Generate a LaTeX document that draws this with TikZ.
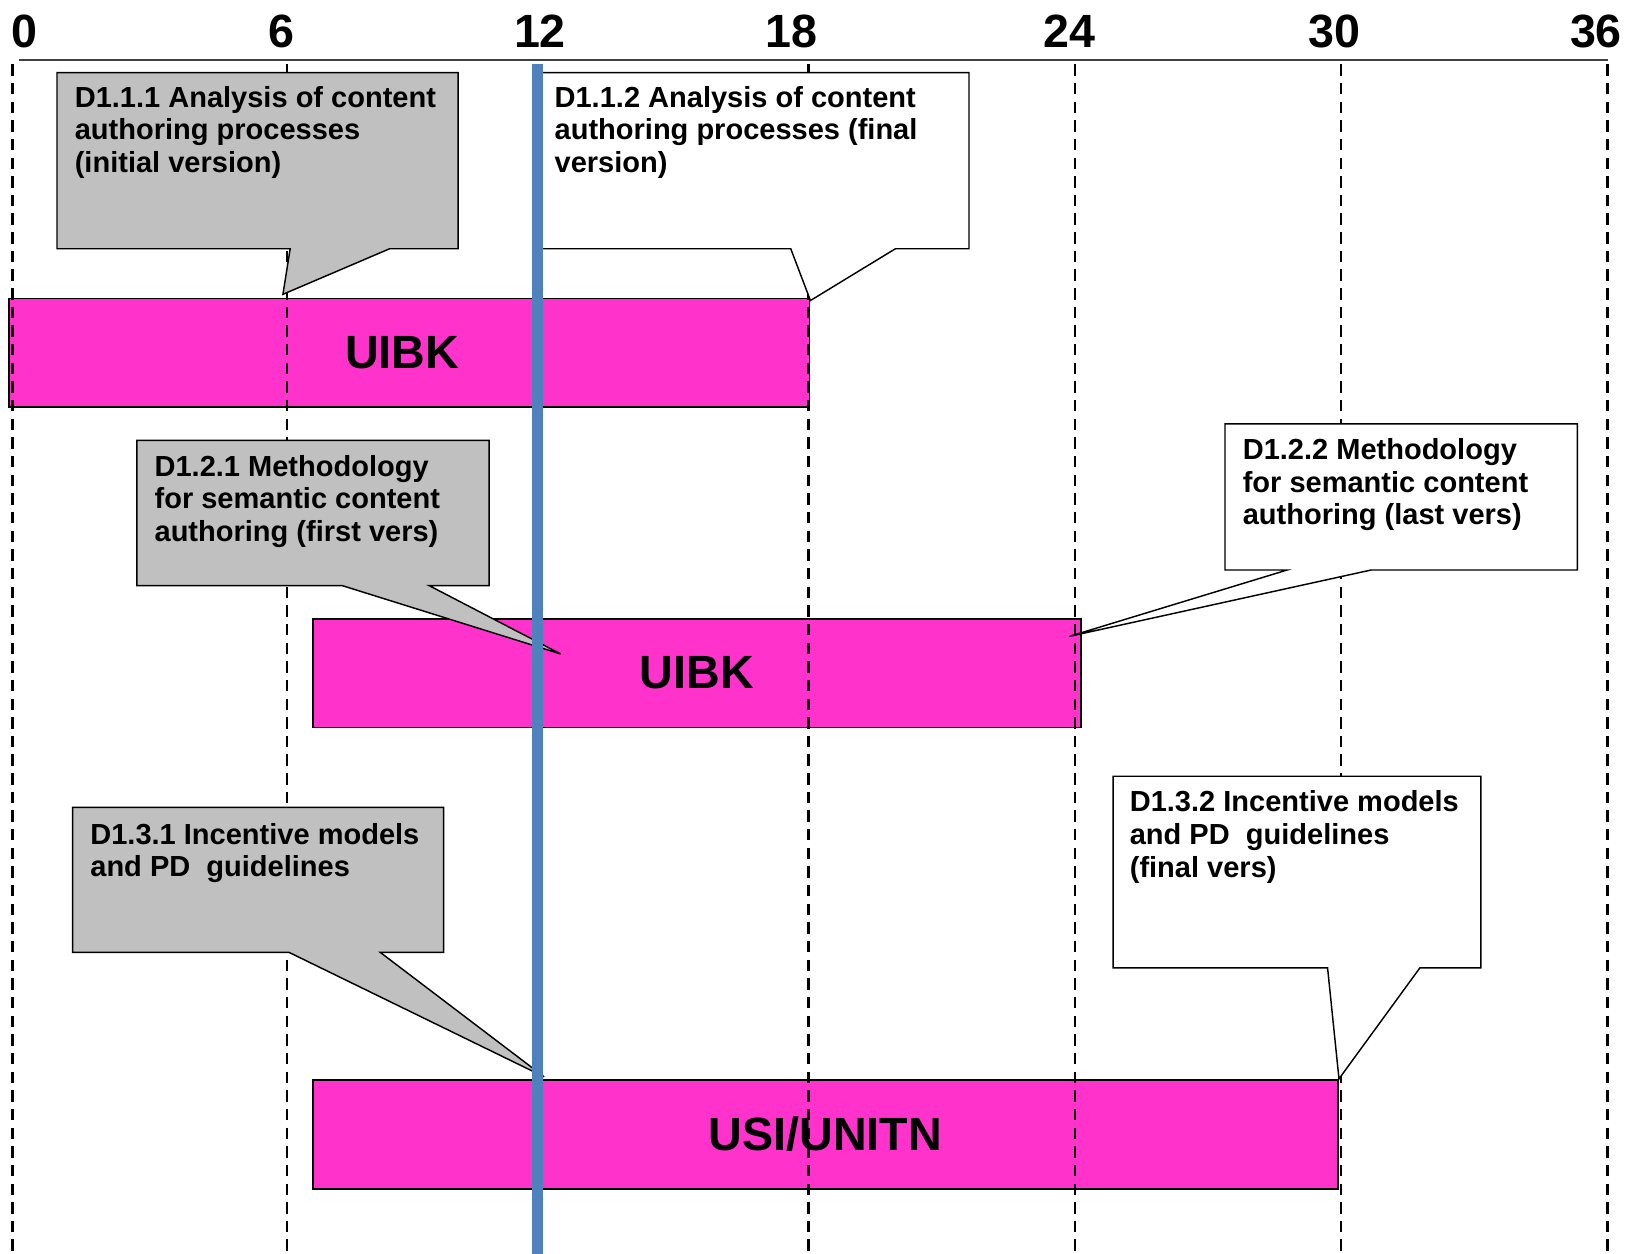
\documentclass[tikz,border=0pt]{standalone}
\usepackage{fontspec}
\setmainfont{Liberation Sans}
\usetikzlibrary{calc}

\definecolor{barpink}{HTML}{FF33CC}
\definecolor{nowblue}{HTML}{4F81BD}
\definecolor{boxgray}{HTML}{C0C0C0}

\tikzset{
  bar/.style={draw=black,line width=1.6pt,fill=barpink,inner sep=0pt,
    minimum height=105pt,font=\fontsize{45}{50}\selectfont\bfseries},
  month/.style={inner sep=0pt,font=\fontsize{45}{50}\selectfont\bfseries},
  monthline/.style={black,line width=2.3pt,dash pattern=on 11pt off 7pt},
  callgray/.style={draw=black,line width=1.4pt,fill=boxgray},
  callwhite/.style={draw=black,line width=1.4pt,fill=white},
  calltext/.style={anchor=north west,align=left,inner sep=0pt,
    font=\fontsize{28}{31.5}\selectfont\bfseries}
}

\begin{document}
\begin{tikzpicture}[x=1pt,y=-1pt]

\useasboundingbox (0,0) rectangle (1568,1210);

% time axis
\draw[black!75,line width=2pt] (18,58) -- (1552,58);
\foreach \m/\x in {0/24,6/272,12/521,18/764,24/1032,30/1288,36/1540}
  \node[month] (m\m) at (\x,30) {\m};

% work bars
\node[bar,minimum width=772pt] (bar1) at (395,340.5) {\hspace*{-14pt}UIBK};
\node[bar,minimum width=741pt] (bar2) at (672.5,649.5) {UIBK};
\node[bar,minimum width=989pt] (bar3) at (796.5,1094.5) {USI/UNITN};

\foreach \x in {12,277,518,780,1037,1294,1551}
  \draw[monthline] (\x,62) -- (\x,1210);

% deliverables
\coordinate (t111) at (273,284);
\coordinate (t112) at (782,290);
\coordinate (t121) at (541,631);
\coordinate (t122) at (1032,614);
\coordinate (t131) at (525,1039);
\coordinate (t132) at (1292,1041);

\draw[callgray] (55,70) -- (442,70) -- (442,240) -- (376,240) -- (t111)
  -- (280,240) -- (55,240) -- cycle;
\node[calltext] (d111) at (72,83) {D1.1.1 Analysis of content\\authoring processes\\(initial version)};

\draw[callwhite] (516,70) -- (935,70) -- (935,240) -- (864,240) -- (t112)
  -- (763,240) -- (516,240) -- cycle;
\node[calltext] (d112) at (535,83) {D1.1.2 Analysis of content\\authoring processes (final\\version)};

\draw[callgray] (132,425) -- (472,425) -- (472,565) -- (414,565) -- (t121)
  -- (330,565) -- (132,565) -- cycle;
\node[calltext] (d121) at (149,439) {D1.2.1 Methodology\\for semantic content\\authoring (first vers)};

\draw[callwhite] (1182,409) -- (1522,409) -- (1522,550) -- (1323,550) -- (t122)
  -- (1242,550) -- (1182,550) -- cycle;
\node[calltext] (d122) at (1199,423) {D1.2.2 Methodology\\for semantic content\\authoring (last vers)};

\draw[callgray] (70,779) -- (428,779) -- (428,919) -- (367,919) -- (t131)
  -- (279,919) -- (70,919) -- cycle;
\node[calltext] (d131) at (87,794) {D1.3.1 Incentive models\\and PD~~guidelines};

\draw[callwhite] (1074,749) -- (1429,749) -- (1429,934) -- (1370,934) -- (t132)
  -- (1281,934) -- (1074,934) -- cycle;
\node[calltext] (d132) at (1090,763) {D1.3.2 Incentive models\\and PD~~guidelines\\(final vers)};

% month 12
\draw[nowblue,line width=11pt] (518.5,62) -- (518.5,1210);

\end{tikzpicture}
\end{document}
